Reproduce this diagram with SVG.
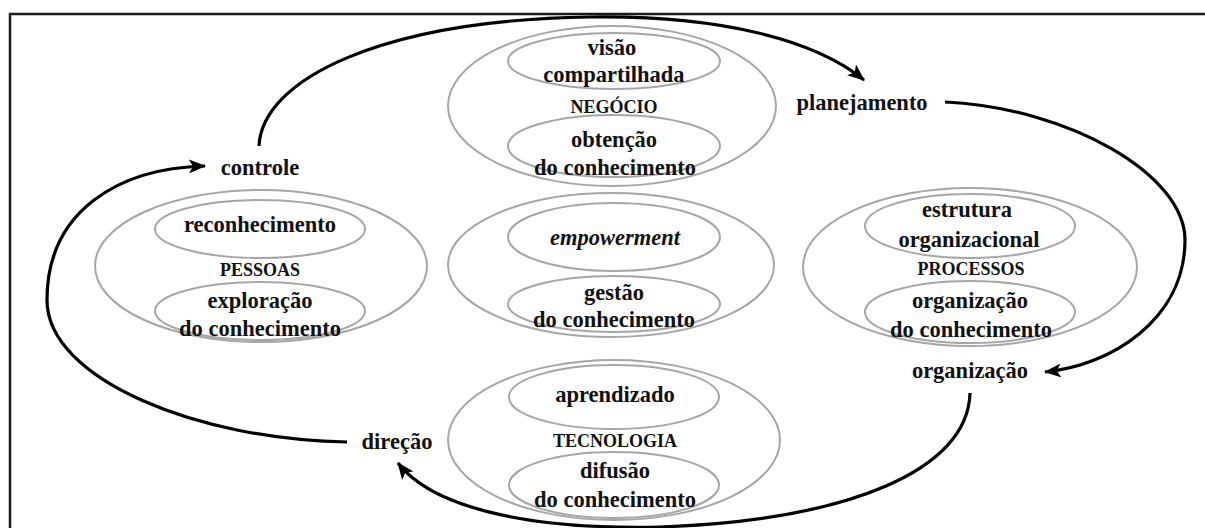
<svg xmlns="http://www.w3.org/2000/svg" width="1205" height="528" viewBox="0 0 1205 528">
<style>
.bg{fill:#ffffff}
.frame{fill:none;stroke:#1a1a1a;stroke-width:2.5}
.ell{fill:none;stroke:#a6a6a6;stroke-width:2}
.t{font-family:"Liberation Serif","Times New Roman",serif;font-weight:bold;font-size:22.5px;fill:#111;text-anchor:middle}
.s{font-family:"Liberation Serif","Times New Roman",serif;font-weight:bold;font-size:18px;fill:#111;text-anchor:middle}
.i{font-style:italic}
.arr{fill:none;stroke:#000;stroke-width:3.2;stroke-linecap:butt}
</style>
<defs>
<marker id="ah" markerUnits="userSpaceOnUse" markerWidth="18" markerHeight="14" refX="16" refY="7" orient="auto">
<path d="M0,0 L17,7 L0,14 L4,7 z" fill="#000"/>
</marker>
</defs>
<rect class="bg" x="0" y="0" width="1205" height="528"/>
<path class="frame" d="M10,530 V14 H1207"/>

<g id="negocio">
<ellipse class="ell" cx="612" cy="106" rx="164" ry="80"/>
<ellipse class="ell" cx="614" cy="61" rx="106" ry="28"/>
<ellipse class="ell" cx="614" cy="146" rx="106" ry="31"/>
<text class="t" x="612" y="55">visão</text>
<text class="t" x="614" y="82">compartilhada</text>
<text class="s" x="614" y="113">NEGÓCIO</text>
<text class="t" x="614" y="147">obtenção</text>
<text class="t" x="615" y="175">do conhecimento</text>
</g>

<g id="gestao">
<ellipse class="ell" cx="611" cy="265" rx="163" ry="72"/>
<ellipse class="ell" cx="614" cy="237" rx="106" ry="34"/>
<ellipse class="ell" cx="614" cy="304" rx="106" ry="28"/>
<text class="t i" x="615" y="245">empowerment</text>
<text class="t" x="614" y="300">gestão</text>
<text class="t" x="614" y="327">do conhecimento</text>
</g>

<g id="pessoas">
<ellipse class="ell" cx="261" cy="266" rx="166" ry="76"/>
<ellipse class="ell" cx="260" cy="229" rx="105" ry="29"/>
<ellipse class="ell" cx="260" cy="311" rx="105" ry="29"/>
<text class="t" x="260" y="232">reconhecimento</text>
<text class="s" x="260" y="276">PESSOAS</text>
<text class="t" x="260" y="308">exploração</text>
<text class="t" x="260" y="336">do conhecimento</text>
</g>

<g id="processos">
<ellipse class="ell" cx="970" cy="267" rx="167" ry="79"/>
<ellipse class="ell" cx="970" cy="226" rx="105" ry="32"/>
<ellipse class="ell" cx="970" cy="312" rx="105" ry="31"/>
<text class="t" x="967" y="217">estrutura</text>
<text class="t" x="969" y="247">organizacional</text>
<text class="s" x="971" y="275">PROCESSOS</text>
<text class="t" x="970" y="308">organização</text>
<text class="t" x="971" y="337">do conhecimento</text>
</g>

<g id="tecnologia">
<ellipse class="ell" cx="614" cy="440" rx="166" ry="80"/>
<ellipse class="ell" cx="614" cy="397" rx="105" ry="32"/>
<ellipse class="ell" cx="614" cy="485" rx="105" ry="33"/>
<text class="t" x="615" y="402">aprendizado</text>
<text class="s" x="615" y="447">TECNOLOGIA</text>
<text class="t" x="615" y="478">difusão</text>
<text class="t" x="615" y="507">do conhecimento</text>
</g>

<g id="controle"><text class="t" x="260" y="175">controle</text></g>
<g id="planejamento"><text class="t" x="862" y="110">planejamento</text></g>
<g id="organizacao"><text class="t" x="970" y="378">organização</text></g>
<g id="direcao"><text class="t" x="397" y="449">direção</text></g>

<g id="connectors">
<path class="arr" marker-end="url(#ah)" d="M259,146 C262,80 380,20 590,17 C720,15 815,40 864,80"/>
<path class="arr" marker-end="url(#ah)" d="M945,102 C1070,108 1185,175 1185,240 C1185,320 1110,366 1045,372"/>
<path class="arr" marker-end="url(#ah)" d="M970,393 C968,470 850,520 660,527 C520,530 430,505 398,463"/>
<path class="arr" marker-end="url(#ah)" d="M347,442 C200,440 47,380 47,300 C47,210 120,168 205,166"/>
</g>
</svg>
